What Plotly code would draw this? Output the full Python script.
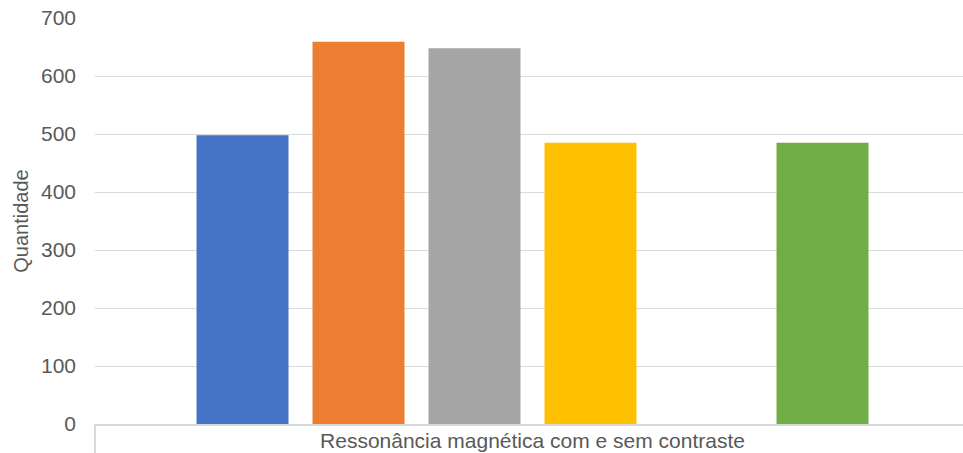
import plotly.graph_objects as go

category = ["Ressonância magnética com e sem contraste"]
series_names = ["Série 1", "Série 2", "Série 3", "Série 4", "Série 5", "Série 6"]
series_values = [498, 659, 648, 485, None, 485]
series_colors = ["#4472C4", "#ED7D31", "#A5A5A5", "#FFC000", "#5B9BD5", "#70AD47"]
y_ticks = [0, 100, 200, 300, 400, 500, 600, 700]

fig = go.Figure()
for name, val, col in zip(series_names, series_values, series_colors):
    fig.add_trace(go.Bar(name=name, x=category, y=[val], marker=dict(color=col, line=dict(width=0))))

font_family = "Liberation Sans, Arial, sans-serif"
fig.update_layout(
    width=963, height=453,
    margin=dict(l=95, r=0, t=18, b=29, autoexpand=False),
    paper_bgcolor="white", plot_bgcolor="white",
    barmode="group", bargap=0.2046, bargroupgap=0.207,
    showlegend=False,
    font=dict(family=font_family, color="#595959", size=20),
)
fig.update_xaxes(
    range=[-0.5, 0.492], showgrid=False, showline=True, linecolor="#D9D9D9", linewidth=2,
    tickfont=dict(size=21, color="#595959"), ticks="", automargin=False, ticklabelstandoff=-3,
)
fig.update_yaxes(
    range=[0, 700], tickvals=y_ticks, showgrid=True, gridcolor="#D9D9D9", gridwidth=1,
    zeroline=False, showline=False, ticks="", ticklabelstandoff=18,
    tickfont=dict(size=21, color="#595959"), automargin=False,
    title=dict(text="Quantidade", font=dict(size=20, color="#595959"), standoff=6),
)
fig.add_shape(type="line", xref="paper", yref="paper", x0=0, x1=0, y0=0, y1=-0.08,
              line=dict(color="#D9D9D9", width=2))
fig.write_html("out.html", post_script="document.body.style.margin='0';",
               config={"displayModeBar": False})
